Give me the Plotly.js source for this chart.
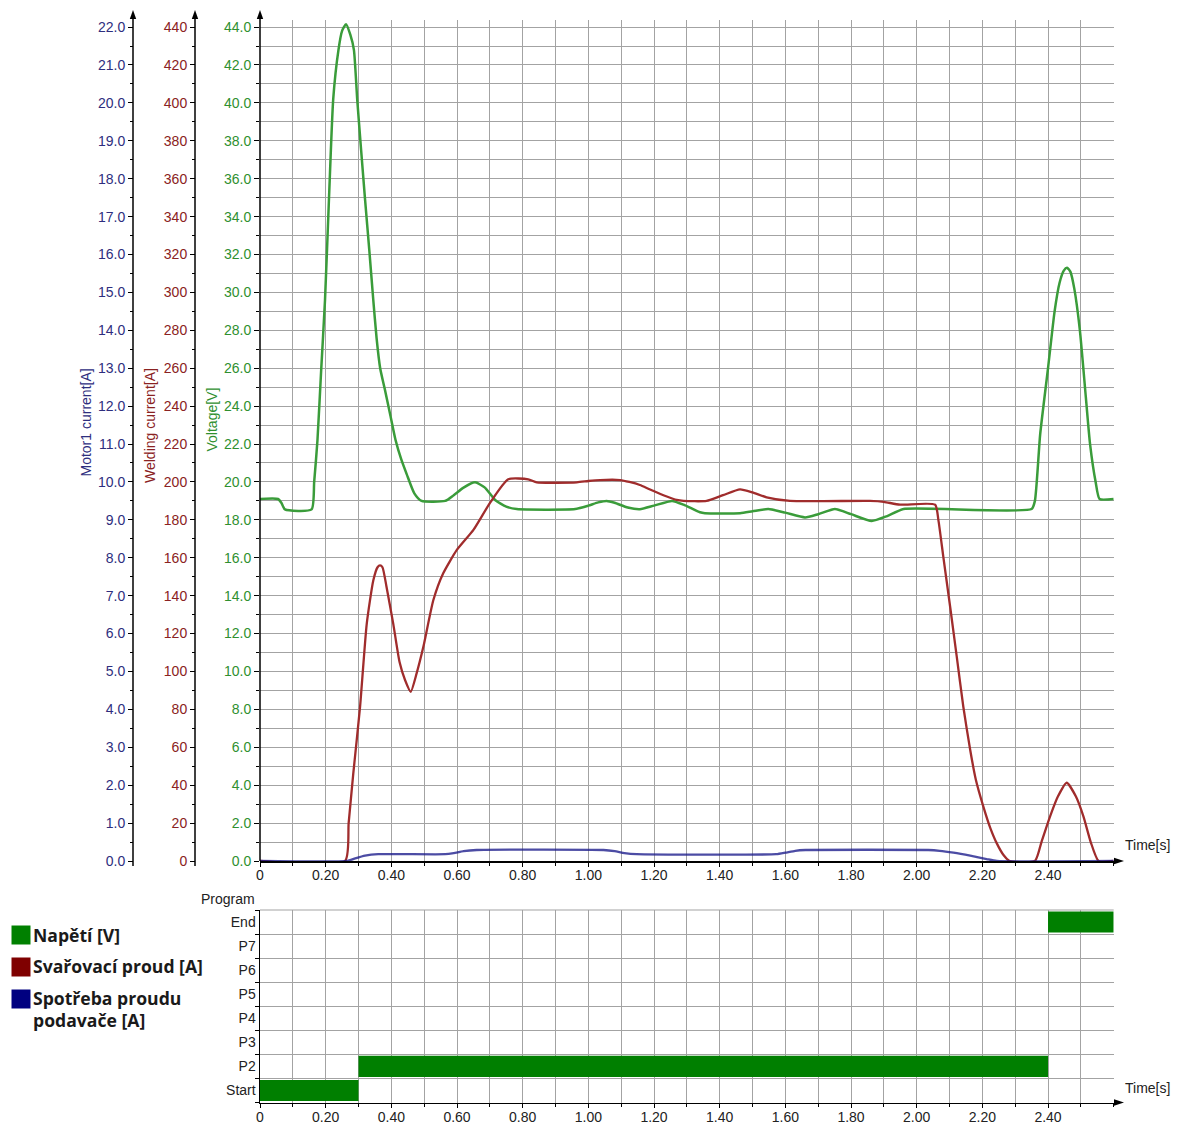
<!DOCTYPE html>
<html><head><meta charset="utf-8">
<script src="https://cdn.plot.ly/plotly-3.0.1.min.js"></script>
<style>html,body{margin:0;padding:0;background:#fff}#chart{width:1189px;height:1126px}</style>
</head><body><div id="chart"></div>
<script>
// ---- data ----
const voltageT = [0, 0.055, 0.065, 0.076, 0.157, 0.165, 0.175, 0.186, 0.198, 0.21, 0.223, 0.239, 0.25, 0.262, 0.275, 0.286, 0.296, 0.308, 0.32, 0.333, 0.345, 0.355, 0.366, 0.38, 0.396, 0.413, 0.43, 0.447, 0.47, 0.492, 0.564, 0.59, 0.62, 0.655, 0.685, 0.716, 0.75, 0.782, 0.96, 1.0, 1.03, 1.056, 1.08, 1.12, 1.157, 1.2, 1.255, 1.29, 1.34, 1.355, 1.462, 1.5, 1.548, 1.6, 1.66, 1.70, 1.751, 1.80, 1.863, 1.91, 1.96, 2.35, 2.36, 2.376, 2.40, 2.42, 2.435, 2.448, 2.458, 2.468, 2.48, 2.497, 2.515, 2.528, 2.545, 2.557, 2.6];
const voltageV = [19.1, 19.1, 18.9, 18.55, 18.55, 20.0, 22.2, 25.8, 29.6, 34.9, 40.2, 42.8, 43.8, 44.15, 43.6, 42.8, 40.2, 37.5, 34.9, 32.2, 29.6, 27.6, 26.0, 24.9, 23.6, 22.2, 21.2, 20.4, 19.4, 19.0, 19.0, 19.3, 19.7, 19.98, 19.7, 19.05, 18.7, 18.57, 18.57, 18.75, 18.92, 19.0, 18.9, 18.65, 18.56, 18.75, 19.0, 18.8, 18.4, 18.35, 18.35, 18.45, 18.57, 18.38, 18.13, 18.3, 18.57, 18.3, 17.94, 18.2, 18.57, 18.57, 19.0, 22.5, 26.0, 29.0, 30.5, 31.15, 31.3, 31.1, 30.2, 28.0, 24.5, 22.0, 20.0, 19.1, 19.1];

const weldT = [0, 0.259, 0.27, 0.284, 0.3046, 0.325, 0.345, 0.358, 0.3655, 0.373, 0.385, 0.406, 0.425, 0.4417, 0.459, 0.477, 0.4975, 0.528, 0.558, 0.599, 0.65, 0.70, 0.756, 0.817, 0.843, 0.965, 1.0, 1.036, 1.097, 1.125, 1.157, 1.188, 1.239, 1.269, 1.29, 1.36, 1.41, 1.462, 1.50, 1.543, 1.614, 1.858, 1.90, 1.949, 2.056, 2.066, 2.081, 2.102, 2.122, 2.142, 2.163, 2.18, 2.203, 2.224, 2.244, 2.265, 2.283, 2.36, 2.38, 2.406, 2.43, 2.457, 2.485, 2.508, 2.53, 2.554, 2.6];
const weldA = [0, 0, 20, 46, 81, 125, 148, 155, 156, 155, 145, 125, 105, 95.5, 89.3, 99, 113, 137.7, 151.8, 164, 174.7, 188.8, 201.4, 201.4, 199.8, 199.8, 200.5, 201, 201, 200, 198.4, 196, 192.3, 190.5, 190, 190, 193, 196.1, 194.5, 191.9, 190, 190, 189.5, 188, 188, 180, 160.6, 134, 107.8, 81.4, 58.6, 43, 28.7, 17.5, 9.3, 3, 0, 0, 10, 23.4, 34, 41.3, 34, 23.4, 10, 0, 0];

const motorT = [0, 0.264, 0.29, 0.32, 0.36, 0.564, 0.59, 0.62, 0.66, 1.046, 1.08, 1.11, 1.147, 1.572, 1.60, 1.63, 1.661, 2.035, 2.07, 2.112, 2.163, 2.213, 2.244, 2.6];
const motorA = [0, 0, 0.07, 0.14, 0.18, 0.18, 0.21, 0.26, 0.29, 0.29, 0.26, 0.21, 0.18, 0.18, 0.22, 0.27, 0.29, 0.29, 0.27, 0.22, 0.14, 0.05, 0, 0];

const programRows = ['Start', 'P2', 'P3', 'P4', 'P5', 'P6', 'P7', 'End'];
const programSteps = ['Start', 'P2', 'End'];
const programStart = [0, 0.30, 2.40];
const programEnd = [0.30, 2.40, 2.60];

const timeTickVals = [0, 0.2, 0.4, 0.6, 0.8, 1.0, 1.2, 1.4, 1.6, 1.8, 2.0, 2.2, 2.4];
const timeTickText = ['0', '0.20', '0.40', '0.60', '0.80', '1.00', '1.20', '1.40', '1.60', '1.80', '2.00', '2.20', '2.40'];

const legendLabels = ['Napětí [V]', 'Svařovací proud [A]', 'Spotřeba proudu', 'podavače [A]'];
const legendColors = ['#008000', '#7f0000', '#000080'];

// ---- layout helpers ----
const W = 1189, H = 1126;
const px = v => v / W;
const py = v => 1 - v / H;
const FONT = 'Liberation Sans, Arial, sans-serif';
const GRID = '#a3a3a3';
const xDom = [px(260), px(1113.7)];

const cGreen = '#2f8f2f', cRed = '#8a2222', cNavy = '#2e2e7e';

const traces = [
  {x: voltageT, y: voltageV, type: 'scatter', mode: 'lines', xaxis: 'x', yaxis: 'y',
   line: {color: '#3a9c3a', width: 2.5, shape: 'spline', smoothing: 0.55}, hoverinfo: 'skip'},
  {x: weldT, y: weldA, type: 'scatter', mode: 'lines', xaxis: 'x', yaxis: 'y2',
   line: {color: '#a02c2c', width: 2.3, shape: 'spline', smoothing: 0.55}, hoverinfo: 'skip'},
  {x: motorT, y: motorA, type: 'scatter', mode: 'lines', xaxis: 'x', yaxis: 'y3',
   line: {color: '#1a1a8a', width: 2.3, shape: 'spline', smoothing: 0.5}, opacity: 0.78, hoverinfo: 'skip'},
  {y: programSteps, x: programEnd.map((e, i) => e - programStart[i]), base: programStart,
   type: 'bar', orientation: 'h', xaxis: 'x2', yaxis: 'y4', width: 0.88,
   marker: {color: '#007f00', line: {width: 0}}, hoverinfo: 'skip'}
];

const timeAxis = (anchor) => ({
  domain: xDom, anchor: anchor, range: [0, 2.6], zeroline: false,
  showline: true, linecolor: '#000', linewidth: 1.5,
  tickmode: 'array', tickvals: timeTickVals, ticktext: timeTickText,
  ticks: 'outside', ticklen: 4, tickcolor: '#000', ticklabelstandoff: -3,
  tickfont: {family: FONT, size: 14, color: '#222'},
  showgrid: true, gridcolor: GRID, gridwidth: 1,
  minor: {tickmode: 'linear', tick0: 0, dtick: 0.1, showgrid: true, gridcolor: GRID, gridwidth: 1,
          ticks: 'outside', ticklen: 3, tickcolor: '#000'}
});

const arrowUp = (x) => ({type: 'path', xref: 'paper', yref: 'paper',
  path: `M ${px(x)} ${py(10)} L ${px(x - 3.2)} ${py(19)} L ${px(x + 3.2)} ${py(19)} Z`,
  fillcolor: '#000', line: {width: 0}});
const arrowRight = (y) => ({type: 'path', xref: 'paper', yref: 'paper',
  path: `M ${px(1124)} ${py(y)} L ${px(1114)} ${py(y - 3.2)} L ${px(1114)} ${py(y + 3.2)} Z`,
  fillcolor: '#000', line: {width: 0}});
const vline = (x, y0, y1) => ({type: 'line', xref: 'paper', yref: 'paper',
  x0: px(x), x1: px(x), y0: py(y0), y1: py(y1), line: {color: '#000', width: 1.5}});

const shapes = [
  arrowUp(133), arrowUp(195), arrowUp(260),
  vline(133, 866, 18), vline(195, 866, 18), vline(260, 861, 18),
  arrowRight(861), arrowRight(1102.5),
  {type: 'line', xref: 'paper', yref: 'paper', x0: px(260), x1: px(1113.7), y0: py(910), y1: py(910),
   line: {color: GRID, width: 1}}
];
legendColors.forEach((c, i) => {
  const top = 925.5 + i * 32;
  shapes.push({type: 'rect', xref: 'paper', yref: 'paper', x0: px(11.5), x1: px(30.5),
    y0: py(top), y1: py(top + 19), fillcolor: c, line: {width: 0}});
});

const ann = (text, x, y, opts) => Object.assign({text: text, xref: 'paper', yref: 'paper',
  x: px(x), y: py(y), showarrow: false, xanchor: 'left', yanchor: 'middle',
  font: {family: FONT, size: 14, color: '#222'}}, opts || {});

const legendY = [935, 966, 998, 1020];
const annotations = [
  ann('Motor1 current[A]', 85.5, 423, {xanchor: 'center', textangle: -90, font: {family: FONT, size: 14, color: cNavy}}),
  ann('Welding current[A]', 150, 426, {xanchor: 'center', textangle: -90, font: {family: FONT, size: 14, color: cRed}}),
  ann('Voltage[V]', 211.5, 420, {xanchor: 'center', textangle: -90, font: {family: FONT, size: 14, color: cGreen}}),
  ann('Time[s]', 1123, 845),
  ann('Time[s]', 1123, 1088),
  ann('Program', 257, 899, {xanchor: 'right'})
];
legendLabels.forEach((t, i) => {
  annotations.push(ann('<b>' + t + '</b>', 31, legendY[i],
    {font: {family: 'Open Sans, sans-serif', size: 17.6, color: '#1a1a1a'}}));
});

const layout = {
  width: W, height: H, autosize: false,
  margin: {l: 0, r: 0, t: 0, b: 0, pad: 0},
  paper_bgcolor: '#fff', plot_bgcolor: '#fff',
  showlegend: false, hovermode: false, barmode: 'overlay',
  font: {family: FONT, size: 14, color: '#222'},
  xaxis: timeAxis('y'),
  xaxis2: timeAxis('y4'),
  yaxis: {
    domain: [py(861), py(19.5)], anchor: 'x', range: [0, 44.4], zeroline: false,
    showline: false, tickmode: 'linear', tick0: 0, dtick: 2, tickformat: '.1f',
    ticks: 'outside', ticklen: 5, tickcolor: '#000',
    tickfont: {family: FONT, size: 14, color: cGreen},
    showgrid: true, gridcolor: GRID, gridwidth: 1,
    minor: {tick0: 0, dtick: 1, showgrid: true, gridcolor: GRID, gridwidth: 1, ticks: 'outside', ticklen: 3, tickcolor: '#000'}
  },
  yaxis2: {
    overlaying: 'y', anchor: 'free', position: px(195), side: 'left', range: [0, 444], zeroline: false,
    showline: false, tickmode: 'linear', tick0: 0, dtick: 20,
    ticks: 'outside', ticklen: 5, tickcolor: '#000',
    tickfont: {family: FONT, size: 14, color: cRed}, showgrid: false,
    minor: {tick0: 0, dtick: 10, ticks: 'outside', ticklen: 3, tickcolor: '#000', showgrid: false}
  },
  yaxis3: {
    overlaying: 'y', anchor: 'free', position: px(133), side: 'left', range: [0, 22.2], zeroline: false,
    showline: false, tickmode: 'linear', tick0: 0, dtick: 1, tickformat: '.1f',
    ticks: 'outside', ticklen: 5, tickcolor: '#000',
    tickfont: {family: FONT, size: 14, color: cNavy}, showgrid: false,
    minor: {tick0: 0, dtick: 0.5, ticks: 'outside', ticklen: 3, tickcolor: '#000', showgrid: false}
  },
  yaxis4: {
    domain: [py(1102.5), py(910)], anchor: 'x2', type: 'category',
    categoryorder: 'array', categoryarray: programRows, range: [-0.5, 7.5],
    tickson: 'boundaries', ticks: 'outside', ticklen: 4, tickcolor: '#000',
    showline: true, linecolor: '#000', linewidth: 1.5, zeroline: false,
    showgrid: true, gridcolor: GRID, gridwidth: 1,
    tickfont: {family: FONT, size: 14, color: '#222'}
  },
  shapes: shapes,
  annotations: annotations
};

Plotly.newPlot('chart', traces, layout, {staticPlot: true, displayModeBar: false});
</script>
</body></html>
